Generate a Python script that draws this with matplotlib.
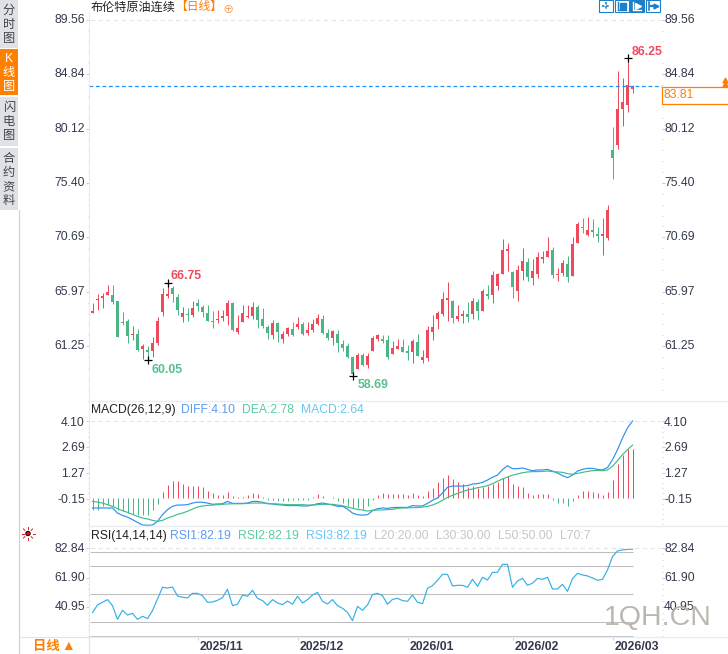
import numpy as np
import matplotlib
matplotlib.use('Agg')
import matplotlib.pyplot as plt
from matplotlib.patches import Rectangle, Circle
from matplotlib.transforms import ScaledTranslation

plt.rcParams['font.family'] = ['Liberation Sans', 'Noto Sans CJK SC', 'DejaVu Sans']

# daily bars
opens = [64.16, 65.29, 65.46, 65.72, 65.69, 65.17, 63.35, 63.44, 62.25, 62.31,
         60.98, 60.92, 60.86, 61.53, 64.25, 65.64, 66.27, 65.52, 63.78, 64.07,
         63.96, 65.00, 64.65, 64.13, 63.44, 63.52, 63.70, 63.87, 65.03, 62.48,
         63.38, 63.78, 63.87, 64.65, 63.58, 62.92, 62.22, 63.26, 61.87, 62.31,
         62.74, 62.91, 63.17, 62.39, 62.65, 63.17, 63.61, 62.39, 61.96, 62.31,
         61.44, 61.27, 60.31, 59.27, 60.49, 59.62, 60.83, 61.87, 61.87, 61.79,
         60.57, 61.01, 61.18, 60.83, 60.75, 61.61, 60.05, 60.23, 62.48, 63.61,
         64.04, 65.26, 65.17, 63.61, 63.87, 64.04, 64.04, 65.08, 64.30, 65.78,
         65.69, 66.47, 67.51, 69.51, 67.69, 66.04, 67.77, 68.55, 67.17, 67.51,
         68.81, 68.99, 69.59, 67.43, 67.60, 68.38, 67.34, 70.20, 71.59, 70.90,
         71.33, 70.98, 70.81, 70.64, 78.27, 78.70, 81.82, 82.17, 83.56]
highs = [65.03, 65.78, 65.84, 66.56, 66.56, 65.17, 64.25, 63.58, 63.00, 62.74,
         61.44, 61.27, 62.02, 63.76, 66.27, 66.75, 66.47, 65.75, 64.62, 64.54,
         65.14, 65.32, 64.83, 64.83, 64.31, 64.39, 64.39, 65.26, 65.09, 63.96,
         64.83, 64.83, 65.09, 64.83, 64.54, 63.09, 63.52, 63.35, 62.57, 62.91,
         63.35, 63.78, 63.35, 63.35, 63.61, 64.04, 63.96, 62.74, 62.65, 62.65,
         61.79, 61.53, 60.40, 60.66, 60.66, 60.66, 62.13, 62.31, 62.22, 62.22,
         61.70, 61.87, 61.87, 61.35, 61.87, 62.31, 60.92, 63.00, 63.96, 64.30,
         65.95, 66.82, 65.26, 64.82, 64.39, 65.08, 65.43, 65.34, 66.21, 66.56,
         67.77, 67.60, 70.55, 70.20, 67.77, 68.29, 69.77, 68.90, 68.81, 69.42,
         69.51, 70.72, 69.85, 68.03, 68.73, 69.07, 70.72, 72.02, 72.37, 72.46,
         72.28, 71.59, 72.37, 73.50, 80.26, 85.12, 84.51, 86.25, 83.87]
lows = [64.16, 64.39, 64.59, 65.69, 64.94, 62.08, 63.09, 61.56, 61.79, 60.86,
        60.11, 60.05, 60.31, 61.38, 63.90, 65.46, 65.11, 63.96, 63.38, 63.44,
        63.76, 64.31, 63.76, 63.44, 62.83, 63.24, 63.41, 63.09, 62.60, 62.31,
        63.38, 63.67, 63.58, 62.83, 62.83, 61.88, 61.88, 61.62, 61.53, 62.13,
        62.13, 62.74, 62.22, 62.22, 62.48, 63.09, 62.31, 61.79, 61.35, 60.75,
        60.83, 60.23, 58.69, 59.27, 59.53, 59.36, 60.83, 61.70, 61.53, 60.14,
        60.57, 61.01, 60.75, 60.05, 59.79, 60.40, 59.79, 59.96, 61.79, 62.74,
        63.87, 63.44, 63.26, 63.44, 63.29, 63.38, 63.61, 63.52, 64.30, 65.34,
        65.00, 66.12, 67.51, 67.77, 65.43, 65.17, 66.99, 66.90, 66.56, 67.17,
        68.47, 68.99, 67.17, 66.90, 67.34, 66.82, 67.34, 70.20, 71.07, 70.81,
        70.72, 70.29, 69.16, 70.46, 75.75, 78.35, 80.35, 81.56, 83.21]
closes = [64.31, 65.35, 65.61, 65.92, 65.11, 62.08, 63.26, 62.17, 62.31, 60.92,
          61.27, 60.78, 61.53, 63.44, 65.78, 65.78, 65.78, 64.39, 64.13, 63.99,
          64.57, 64.77, 64.22, 63.44, 63.38, 63.61, 63.87, 65.03, 62.66, 62.80,
          64.13, 63.87, 64.65, 63.55, 63.00, 62.40, 63.26, 62.48, 62.31, 62.83,
          62.22, 63.17, 62.31, 62.65, 63.17, 63.70, 62.39, 61.96, 62.57, 61.53,
          61.09, 60.31, 58.81, 60.49, 59.62, 60.40, 61.96, 62.22, 61.70, 60.31,
          61.09, 61.27, 60.75, 60.66, 61.70, 60.40, 60.31, 62.65, 62.91, 64.13,
          65.34, 65.43, 63.70, 63.87, 64.04, 63.78, 65.17, 64.30, 66.04, 65.60,
          67.43, 67.51, 69.59, 69.68, 66.38, 67.86, 68.64, 67.25, 67.77, 68.99,
          68.99, 69.51, 67.43, 67.51, 68.47, 67.25, 70.11, 71.85, 71.50, 71.33,
          71.16, 70.81, 70.98, 73.06, 77.57, 81.82, 82.43, 83.91, 83.81]

diff = [-0.66, -0.66, -0.66, -0.66, -0.66, -0.94, -1.07, -1.16, -1.30, -1.45,
        -1.59, -1.61, -1.59, -1.39, -1.03, -0.75, -0.57, -0.50, -0.50, -0.48,
        -0.39, -0.34, -0.35, -0.39, -0.46, -0.44, -0.43, -0.30, -0.41, -0.41,
        -0.41, -0.39, -0.30, -0.30, -0.35, -0.43, -0.44, -0.48, -0.50, -0.53,
        -0.53, -0.53, -0.55, -0.55, -0.50, -0.43, -0.39, -0.44, -0.50, -0.57,
        -0.57, -0.72, -0.94, -1.03, -1.05, -1.03, -0.81, -0.70, -0.66, -0.68,
        -0.64, -0.63, -0.63, -0.63, -0.53, -0.55, -0.55, -0.41, -0.24, -0.11,
        0.16, 0.47, 0.54, 0.54, 0.54, 0.56, 0.65, 0.67, 0.74, 0.87,
        1.02, 1.14, 1.44, 1.65, 1.49, 1.49, 1.53, 1.45, 1.38, 1.42,
        1.42, 1.45, 1.36, 1.25, 1.11, 1.00, 1.14, 1.36, 1.45, 1.51,
        1.51, 1.45, 1.42, 1.55, 1.98, 2.53, 3.17, 3.72, 4.10]
dea = [-0.30, -0.34, -0.39, -0.48, -0.57, -0.70, -0.81, -0.90, -1.01, -1.12,
       -1.21, -1.26, -1.34, -1.39, -1.34, -1.21, -1.12, -1.01, -0.94, -0.84,
       -0.72, -0.61, -0.55, -0.52, -0.50, -0.48, -0.46, -0.44, -0.43, -0.43,
       -0.43, -0.41, -0.39, -0.39, -0.39, -0.41, -0.43, -0.44, -0.46, -0.48,
       -0.48, -0.48, -0.48, -0.50, -0.50, -0.48, -0.46, -0.46, -0.46, -0.50,
       -0.53, -0.61, -0.68, -0.74, -0.77, -0.83, -0.79, -0.77, -0.77, -0.75,
       -0.74, -0.68, -0.66, -0.66, -0.64, -0.64, -0.61, -0.57, -0.50, -0.39,
       -0.24, -0.08, 0.03, 0.14, 0.23, 0.32, 0.38, 0.45, 0.50, 0.56,
       0.67, 0.80, 0.93, 1.03, 1.14, 1.20, 1.27, 1.31, 1.33, 1.33,
       1.34, 1.36, 1.33, 1.31, 1.29, 1.22, 1.18, 1.23, 1.29, 1.34,
       1.38, 1.40, 1.38, 1.42, 1.62, 1.93, 2.26, 2.53, 2.78]
macd_hist = [-0.65, -0.65, -0.40, -0.35, -0.44, -0.62, -0.71, -0.80, -0.84, -0.89,
             -0.89, -0.89, -0.65, -0.29, 0.35, 0.75, 0.96, 0.93, 0.80, 0.69,
             0.69, 0.69, 0.62, 0.42, 0.29, 0.20, 0.20, 0.36, 0.15, 0.05,
             0.09, 0.18, 0.29, 0.25, 0.07, -0.11, -0.11, -0.13, -0.16, -0.16,
             -0.11, -0.11, -0.11, -0.11, 0.07, 0.25, 0.15, 0.04, 0.07, -0.13,
             -0.25, -0.44, -0.53, -0.53, -0.58, -0.40, -0.07, 0.20, 0.29, 0.22,
             0.25, 0.25, 0.24, 0.20, 0.29, 0.20, 0.15, 0.42, 0.58, 0.87,
             1.11, 1.29, 1.07, 0.91, 0.80, 0.62, 0.69, 0.58, 0.62, 0.67,
             0.80, 0.91, 1.13, 1.24, 0.80, 0.65, 0.60, 0.31, 0.20, 0.25,
             0.22, 0.25, -0.09, -0.25, -0.25, -0.44, -0.16, 0.20, 0.38, 0.42,
             0.36, 0.27, 0.16, 0.36, 1.02, 1.87, 2.38, 2.69, 2.70]
rsi = [36.9, 42.4, 44.3, 46.2, 41.9, 32.1, 38.6, 35.2, 36.4, 32.1,
       34.3, 32.6, 38.3, 46.7, 55.0, 54.5, 55.2, 48.8, 47.9, 47.4,
       50.7, 50.7, 49.0, 44.3, 44.5, 45.7, 47.6, 53.6, 41.9, 42.9,
       49.5, 48.6, 52.9, 47.1, 45.5, 42.1, 46.2, 43.8, 42.6, 45.2,
       42.9, 48.6, 43.8, 46.2, 49.5, 51.4, 45.0, 43.1, 46.2, 41.9,
       40.0, 37.1, 31.2, 41.4, 38.6, 42.4, 49.8, 50.7, 49.0, 42.9,
       46.4, 47.1, 45.5, 45.0, 49.5, 44.3, 43.3, 54.3, 56.2, 60.0,
       64.3, 64.3, 56.0, 56.4, 56.4, 55.0, 60.7, 55.7, 62.1, 60.2,
       65.7, 65.7, 71.4, 71.4, 55.0, 59.5, 61.4, 56.4, 57.9, 61.4,
       60.7, 62.1, 53.8, 53.8, 57.1, 52.1, 61.2, 65.0, 63.8, 63.1,
       61.7, 60.0, 60.7, 67.4, 76.9, 81.0, 81.7, 82.14, 82.19]
rsi_levels = [80, 70, 50, 30, 20]

price_ticks = [89.56, 84.84, 80.12, 75.40, 70.69, 65.97, 61.25]
macd_ticks = [4.10, 2.69, 1.27, -0.15]
rsi_ticks = [82.84, 61.90, 40.95]
month_idx = [21, 41, 63, 84, 104]
month_labels = ['2025/11', '2025/12', '2026/01', '2026/02', '2026/03']
extremes = [(15, 66.75), (11, 60.05), (52, 58.69), (107, 86.25)]
last_price = 83.81

RED = '#EE4A5C'
GREEN = '#4CB585'
ORANGE = '#FF7F00'
TEXT = '#343A4E'
W, H = 728, 654
X0 = 92.5  # centre of first candle, px


def panel(top, bottom, ytop, ybot):
    # pixel box -> axes, one candle every 5 px
    ax = fig.add_axes([89 / W, 1 - bottom / H, (662 - 89) / W, (bottom - top) / H])
    ax.set_xlim((89 - X0) / 5, (662 - X0) / 5)
    ax.set_ylim(ybot, ytop)
    ax.patch.set_alpha(0)
    for s in ['top', 'bottom', 'right']:
        ax.spines[s].set_visible(False)
    ax.spines['left'].set_color('#E4ECF2')
    return ax


def px_shift(dx, dy):
    return ScaledTranslation(dx / 100, dy / 100, fig.dpi_scale_trans)


def yaxis_style(ax, ticks, dy=0):
    ax.set_yticks(ticks)
    ax.set_yticklabels(['%.2f' % t for t in ticks], fontsize=8.7, color=TEXT)
    step = abs(ticks[1] - ticks[0]) / 5
    ax.set_yticks(np.arange(ticks[-1] - 5 * step, ticks[0] + step / 2, step), minor=True)
    ax.tick_params(axis='y', which='major', left=True, right=True, labelleft=True, labelright=True,
                   length=2.2, width=0.7, color='#C9CDD2', pad=0.8)
    ax.tick_params(axis='y', which='minor', left=True, right=True, length=1, width=0.7, color='#C9CDD2')
    ax.set_xticks([])
    for tick in ax.yaxis.get_major_ticks():
        tick.label1.set_transform(tick.label1.get_transform() + px_shift(0, dy))
        tick.label2.set_transform(tick.label2.get_transform() + px_shift(-2, dy))


fig = plt.figure(figsize=(W / 100, H / 100), dpi=100)
idx = np.arange(len(closes))

# candles
ax1 = panel(12, 401, 86.25 + 46 / 11.527, 86.25 - 343 / 11.527)
colors = [RED if c >= o else GREEN for o, c in zip(opens, closes)]
ax1.vlines(idx, lows, highs, colors=colors, lw=0.72)
ax1.bar(idx, np.abs(np.array(closes) - np.array(opens)), bottom=np.minimum(opens, closes),
        width=0.6, color=colors, linewidth=0)
yaxis_style(ax1, price_ticks, dy=1.5)
ax1.hlines(price_ticks[0], -0.5, 113.5, colors='#E4E4E4', lw=0.8, linestyles=(0, (4, 3)))
ax1.hlines(last_price, -0.7, 113.9, colors='#1E90FF', lw=0.9, linestyles=(0, (3, 2.2)))
for i, p in extremes:
    ax1.plot(i, p, marker='+', color='black', ms=5.5, mew=0.9, zorder=5)
ax1.annotate('66.75', (15, 66.75), xytext=(2.5, 0.5), textcoords='offset points', color=RED,
             fontsize=8.8, fontweight='bold', va='bottom')
ax1.annotate('60.05', (11, 60.05), xytext=(3, -3), textcoords='offset points', color='#58BE8E',
             fontsize=8.8, fontweight='bold', va='top')
ax1.annotate('58.69', (52, 58.69), xytext=(3.6, -2.2), textcoords='offset points', color='#58BE8E',
             fontsize=8.8, fontweight='bold', va='top')
ax1.annotate('86.25', (107, 86.25), xytext=(3, 0), textcoords='offset points', color=RED,
             fontsize=8.8, fontweight='bold', va='bottom')

# macd
ax2 = panel(402, 526, 4.10 + 19 / 18.27, 4.10 - 105 / 18.27)
base = -0.13
hist = np.array(macd_hist)
ax2.vlines(idx, base, base + hist, colors=[RED if v > 0 else GREEN for v in hist], lw=0.72)
ax2.plot(idx, diff, color='#2E8FF0', lw=0.85)
ax2.plot(idx, dea, color='#3DBE8B', lw=0.85)
yaxis_style(ax2, macd_ticks)
ax2.hlines(macd_ticks[0], -0.5, 113.5, colors='#E4E4E4', lw=0.8, linestyles=(0, (4, 3)))

# rsi, all three lines sit on top of each other
ax3 = panel(527, 637, 50 + 67.3 / 1.4, 50 - 42.7 / 1.4)
ax3.hlines(rsi_levels, -0.5, idx[-1], colors='#BEBEBE', lw=0.75)
ax3.plot(idx, rsi, color='#34B0E6', lw=0.85)
yaxis_style(ax3, rsi_ticks, dy=1)
ax3.hlines(rsi_ticks[0], -0.5, 113.5, colors='#E4E4E4', lw=0.8, linestyles=(0, (4, 3)))
ax3.set_xticks(month_idx)
ax3.set_xticklabels(month_labels, ha='left', fontsize=8.8, fontweight='bold', color=TEXT)
ax3.tick_params(axis='x', length=2.5, width=0.7, color='#C9CDD2', pad=0.5)
for tick in ax3.xaxis.get_major_ticks():
    tick.label1.set_transform(tick.label1.get_transform() + px_shift(2, 0))

# everything around the chart, in pixels
ui = fig.add_axes([0, 0, 1, 1], zorder=10)
ui.set_xlim(0, W)
ui.set_ylim(H, 0)
ui.axis('off')
ui.patch.set_alpha(0)


def txt(x, y, s, **kw):
    kw.setdefault('fontsize', 8.7)
    kw.setdefault('va', 'center')
    ui.text(x, y, s, **kw)


# sidebar
tabs = [(0, 48, '分时图'), (49, 95, 'K线图'), (97, 146, '闪电图'), (148, 210, '合约资料')]
for t, b, s in tabs:
    on = s.startswith('K')
    ui.add_patch(Rectangle((0, t), 18, b - t, fc=ORANGE if on else '#DFE1E8', ec='none'))
    mid = (t + b) / 2 + 1
    for k, ch in enumerate(s):
        txt(9, mid + 14 * (k - (len(s) - 1) / 2), ch, ha='center', color='white' if on else '#444444', fontsize=8.8)
ui.plot([18.5, 18.5], [210, H], color='#C8D0DA', lw=0.8)
ui.plot([19, 89], [636.5, 636.5], color='#DDE3E8', lw=0.8)
ui.plot([89, 89], [636, H], color='#DDE3E8', lw=0.8)
txt(33, 647, '日线', color=ORANGE, fontsize=9.6, fontweight='bold')
txt(61, 646, '▲', color=ORANGE, fontsize=10)
for y in [401, 526]:
    ui.plot([89, W], [y, y], color='#E9EEF3', lw=1)
ui.plot([89, W], [637, 637], color='#E9EEF3', lw=1)

# title row
txt(91, 8, '布伦特原油连续', color='#222222')
txt(175.5, 7, '【日线】', color=ORANGE, fontsize=8.5)
txt(228, 9, '⊕', color='#F59A4E', fontsize=8, ha='center')

# toolbar
for n, x0 in enumerate([599, 615, 630, 646]):
    ui.add_patch(Rectangle((x0, 0), 13.5, 12, fc='#1F7FC6' if n == 2 else 'white', ec='#1F7FC6', lw=0.8))
    c = 'white' if n == 2 else '#1F7FC6'
    if n == 0:
        ui.plot([x0 + 3, x0 + 11], [6, 6], color=c, lw=1.2, ls=(0, (1.5, 1)))
        ui.plot([x0 + 7, x0 + 7], [2, 10], color=c, lw=1.2, ls=(0, (1.5, 1)))
    elif n == 3:
        ui.plot([x0 + 3, x0 + 3], [2, 10], color=c, lw=1.2)
        ui.plot([x0 + 5, x0 + 10], [6, 6], color=c, lw=1.6)
        ui.plot(x0 + 10, 6, marker='>', color=c, ms=3.5)
    else:
        ui.plot([x0 + 3, x0 + 3, x0 + 11], [1.5, 10, 10], color=c, lw=1)
        ui.plot(x0 + 8, 6, marker='>' if n == 2 else 's', color=c, ms=4)

# last price box
ui.add_patch(Rectangle((661.5, 86.5), 70, 17, fc='white', ec=ORANGE, lw=0.9))
txt(664, 95, '83.81', color=ORANGE)
ui.plot([724.5, 724.5], [80, 84], marker='^', color=ORANGE, ms=3.5, ls='none')

# indicator headers
txt(91, 410, 'MACD(26,12,9)', color='#222222')
txt(181, 410, 'DIFF:4.10', color='#5E9CF0')
txt(242, 410, 'DEA:2.78', color='#5CCB9E')
txt(301, 410, 'MACD:2.64', color='#6CC6F2')
txt(91, 536, 'RSI(14,14,14)', color='#222222')
txt(170, 536, 'RSI1:82.19', color='#5E9CF0')
txt(238, 536, 'RSI2:82.19', color='#5CCB9E')
txt(306, 536, 'RSI3:82.19', color='#6CC6F2')
txt(374, 536, 'L20:20.00', color='#C6C6C6')
txt(436, 536, 'L30:30.00', color='#C6C6C6')
txt(498, 536, 'L50:50.00', color='#C6C6C6')
txt(560, 536, 'L70:7', color='#C6C6C6')

# settings icon
ui.add_patch(Circle((28, 533.5), 2.2, fc='#E0101A', ec='black', lw=0.7))
for a in np.arange(0, 2 * np.pi, np.pi / 4):
    ui.plot([28 + 4.5 * np.cos(a), 28 + 6.5 * np.cos(a)], [533.5 + 4.5 * np.sin(a), 533.5 + 6.5 * np.sin(a)],
            color='#D02020', lw=0.7)

# watermark
txt(604, 618, '1QH.CN', color='#B4AEA8', fontsize=20.5, alpha=0.9)

fig.savefig('out.png', dpi=100)
